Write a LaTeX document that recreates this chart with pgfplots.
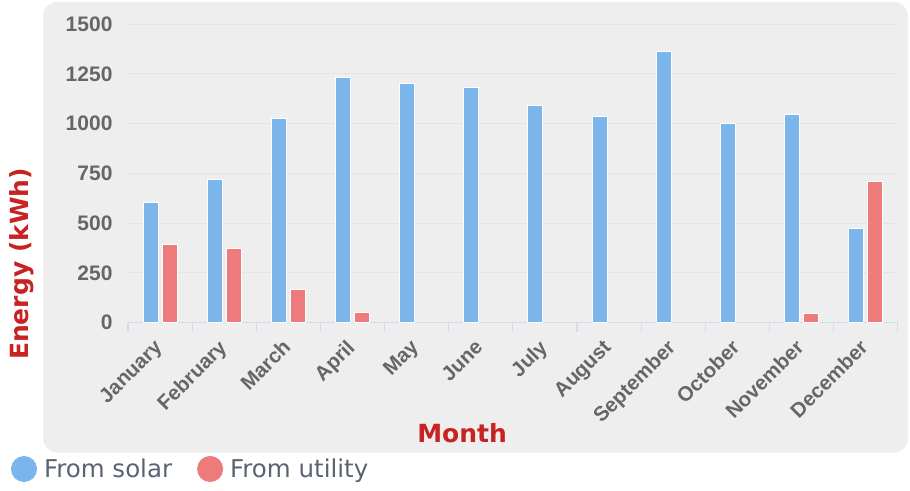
\documentclass[border=0pt]{standalone}
\usepackage{pgfplots}
\pgfplotsset{compat=1.18}
\usepackage{fontspec}
\setmainfont{Liberation Sans}
\newfontfamily\dejavu{DejaVu Sans}
\definecolor{solar}{RGB}{124,181,236}
\definecolor{utility}{RGB}{237,123,123}
\definecolor{bgc}{RGB}{238,238,238}
\definecolor{gridc}{RGB}{228,228,228}
\definecolor{axc}{RGB}{212,219,236}
\definecolor{tickc}{RGB}{102,102,102}
\definecolor{titlec}{RGB}{200,35,35}
\definecolor{legc}{RGB}{90,99,116}
\begin{document}
\begin{tikzpicture}
\path[use as bounding box] (0pt,0pt) rectangle (910pt,490pt);
\fill[bgc, rounded corners=14pt] (43pt,37.5pt) rectangle (908pt,488pt);
\begin{axis}[
  at={(128pt,167.3pt)}, anchor=south west,
  scale only axis, width=769.7pt, height=298.7pt,
  xmin=-0.5, xmax=11.5, ymin=0, ymax=1500,
  ybar=4pt, bar width=15pt,
  separate axis lines,
  axis x line*=bottom, axis y line*=left,
  x axis line style={draw=axc, line width=1.2pt, -},
  y axis line style={draw=none},
  ytick={0,250,...,1500},
  ymajorgrids, grid style={draw=gridc, line width=0.9pt},
  xtick={-0.5,0.5,...,11.5},
  xticklabels={},
  extra x ticks={0,...,11},
  extra x tick labels={January,February,March,April,May,June,July,August,September,October,November,December},
  extra x tick style={major tick length=0pt, major x tick style={draw=none}},
  major tick length=9pt,
  tick align=outside,
  major x tick style={draw=axc, line width=1.2pt},
  major y tick style={draw=none},
  ytick style={draw=none},
  /pgf/number format/assume math mode=true,
  /pgf/number format/set thousands separator={},
  yticklabel style={font=\bfseries\fontsize{21}{21}\selectfont, text=tickc, xshift=-3pt},
  xticklabel style={rotate=45, anchor=north east, font=\bfseries\fontsize{20.5}{20.5}\selectfont, text=tickc, inner sep=1pt, xshift=-15pt, yshift=-5pt},
  ylabel={Energy (kWh)},
  ylabel style={at={(axis description cs:-0.1377,0.1965)}, anchor=center, rotate=0, font=\dejavu\bfseries\fontsize{25}{25}\selectfont, text=titlec},
  xlabel={Month},
  xlabel style={at={(axis description cs:0.434,-0.369)}, anchor=center, font=\dejavu\bfseries\fontsize{25}{25}\selectfont, text=titlec},
  legend columns=2,
  legend style={at={(axis description cs:-0.152,-0.4898)}, anchor=west, draw=none, fill=none, inner sep=0pt, outer sep=0pt,
    font=\dejavu\fontsize{24.5}{24.5}\selectfont, text=legc,
    /tikz/every odd column/.append style={column sep=5pt},
    /tikz/every even column/.append style={column sep=23pt}},
]
\addplot[fill=solar, draw=white, line width=1pt,
  legend image code/.code={\fill[solar] (0pt,0pt) circle (12.5pt);}]
  coordinates {(0,603) (1,720) (2,1027) (3,1231) (4,1199) (5,1182) (6,1090) (7,1033) (8,1361) (9,1000) (10,1048) (11,474)};
\addplot[fill=utility, draw=white, line width=1pt,
  legend image code/.code={\fill[utility] (0pt,0pt) circle (12.5pt);}]
  coordinates {(0,394) (1,372) (2,168) (3,50) (10,45) (11,710)};
\legend{From solar, From utility}
\end{axis}
\end{tikzpicture}
\end{document}
